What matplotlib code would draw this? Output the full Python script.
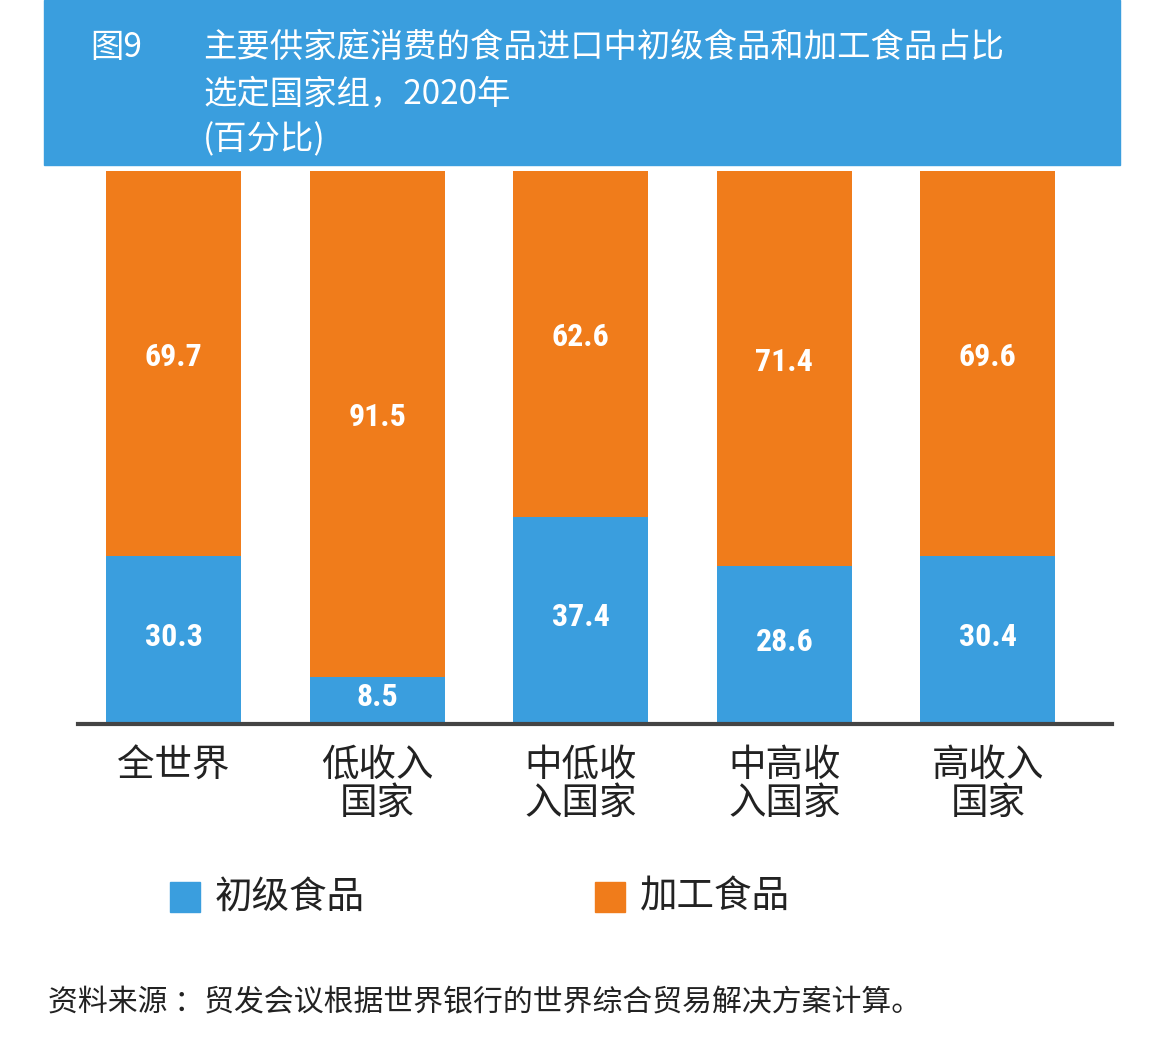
import matplotlib.pyplot as plt
import numpy as np

plt.rcParams['font.family'] = ['Noto Sans CJK SC', 'DejaVu Sans']

# data
categories = ['全世界', '低收入\n国家', '中低收\n入国家', '中高收\n入国家', '高收入\n国家']
primary = [30.3, 8.5, 37.4, 28.6, 30.4]
processed = [69.7, 91.5, 62.6, 71.4, 69.6]
legend_labels = ['初级食品', '加工食品']

blue = '#3a9ede'
orange = '#f07c1b'
num_font = ['Roboto Condensed', 'Roboto', 'DejaVu Sans']

fig = plt.figure(figsize=(11.6, 10.48), dpi=100)

# header band
fig.patches.append(plt.Rectangle((44 / 1160, 1 - 165 / 1048), (1120 - 44) / 1160, 165 / 1048,
                                 transform=fig.transFigure, color=blue, zorder=0))
fig.text(90 / 1160, 1 - 47 / 1048, '图9', color='white', fontsize=24, va='center')
fig.text(203 / 1160, 1 - 47 / 1048, '主要供家庭消费的食品进口中初级食品和加工食品占比',
         color='white', fontsize=24, va='center')
fig.text(203 / 1160, 1 - 94 / 1048, '选定国家组，2020年', color='white', fontsize=24, va='center')
fig.text(203 / 1160, 1 - 140 / 1048, '(百分比)', color='white', fontsize=24, va='center')

ax = fig.add_axes([78 / 1160, 1 - 724 / 1048, (1112 - 78) / 1160, (724 - 171) / 1048])
x = np.arange(len(categories))
w = 0.663
ax.bar(x, primary, w, color=blue, label=legend_labels[0])
ax.bar(x, processed, w, bottom=primary, color=orange, label=legend_labels[1])

for i in range(len(x)):
    ax.text(x[i], primary[i] / 2 + 0.6, f'{primary[i]:.1f}', ha='center', va='center',
            color='white', fontsize=23, fontweight='bold', family=num_font)
    ax.text(x[i], primary[i] + processed[i] / 2 + 1.2, f'{processed[i]:.1f}', ha='center',
            va='center', color='white', fontsize=23, fontweight='bold', family=num_font)

ax.set_xlim(-0.47, 4.61)
ax.set_ylim(0, 100)
ax.set_yticks([])
ax.set_xticks(x)
ax.set_xticklabels(categories, fontsize=27, linespacing=0.95, color='#222222')
ax.tick_params(axis='x', length=0, pad=16)
for s in ['top', 'right', 'left']:
    ax.spines[s].set_visible(False)
ax.spines['bottom'].set_color('#444444')
ax.spines['bottom'].set_linewidth(3)

# legend
fig.patches.append(plt.Rectangle((170 / 1160, 1 - 912 / 1048), 30 / 1160, 30 / 1048,
                                 transform=fig.transFigure, color=blue))
fig.text(215 / 1160, 1 - 897 / 1048, legend_labels[0], fontsize=27, va='center', color='#222222')
fig.patches.append(plt.Rectangle((595 / 1160, 1 - 912 / 1048), 30 / 1160, 30 / 1048,
                                 transform=fig.transFigure, color=orange))
fig.text(640 / 1160, 1 - 897 / 1048, legend_labels[1], fontsize=27, va='center', color='#222222')

fig.text(48 / 1160, 1 - 1003 / 1048, '资料来源 ：贸发会议根据世界银行的世界综合贸易解决方案计算。',
         fontsize=21.5, va='center', color='#222222')

fig.savefig('out.png', dpi=100)
